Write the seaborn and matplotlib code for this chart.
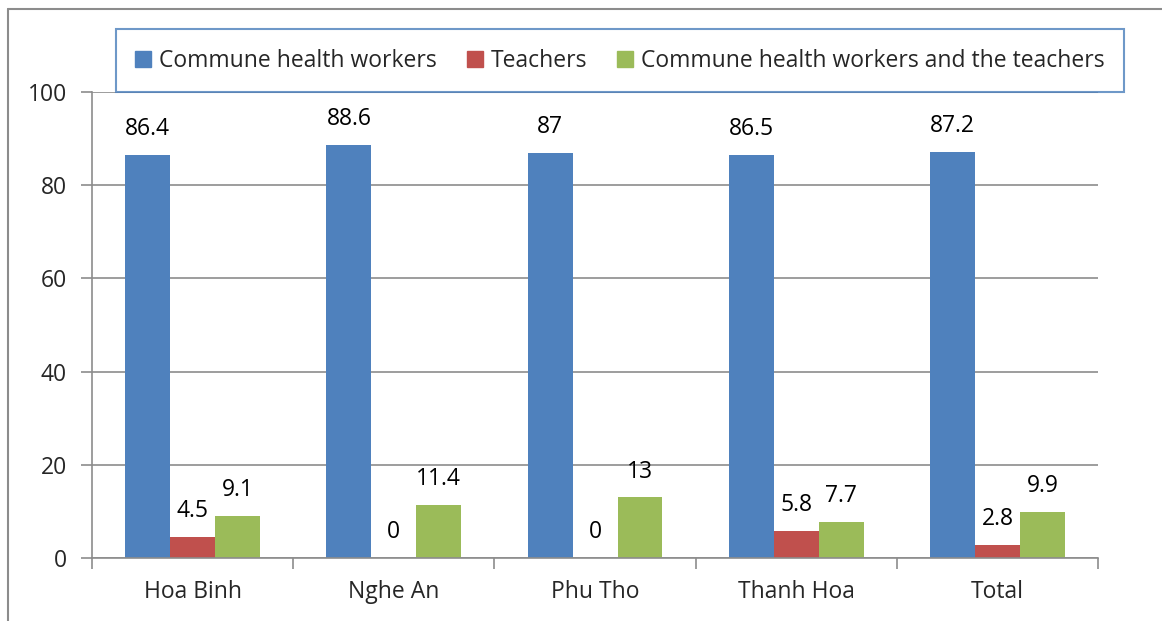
import matplotlib
matplotlib.use("Agg")
import matplotlib.pyplot as plt
from matplotlib.lines import Line2D
import pandas as pd
import seaborn as sns

# Data
provinces = ["Hoa Binh", "Nghe An", "Phu Tho", "Thanh Hoa", "Total"]
series_names = ["Commune health workers", "Teachers",
                "Commune health workers and the teachers"]
health_workers = [86.4, 88.6, 87, 86.5, 87.2]
teachers = [4.5, 0, 0, 5.8, 2.8]
both = [9.1, 11.4, 13, 7.7, 9.9]
y_ticks = [0, 20, 40, 60, 80, 100]

colors = ["#4F81BD", "#C0504D", "#9BBB59"]

rows = []
for name, vals in zip(series_names, [health_workers, teachers, both]):
    for p, v in zip(provinces, vals):
        rows.append({"province": p, "group": name, "value": v})
df = pd.DataFrame(rows)

sns.set_theme(style="white")
plt.rcParams["font.family"] = ["Open Sans", "DejaVu Sans"]

fs = 16.5

fig = plt.figure(figsize=(11.62, 6.21), dpi=100)
ax = fig.add_axes([0.0792, 0.1014, 0.8658, 0.7505])

sns.barplot(data=df, x="province", y="value", hue="group",
            palette=colors, width=0.67, saturation=1, ax=ax,
            errorbar=None, legend=False, linewidth=0)

for cont in ax.containers:
    ax.bar_label(cont, labels=[f"{v:g}" for v in cont.datavalues],
                 padding=10, fontsize=fs, color="black")

ax.set_ylim(0, 100)
ax.set_xlim(-0.5, len(provinces) - 0.5)
ax.set_yticks(y_ticks)
ax.set_xlabel("")
ax.set_ylabel("")
ax.yaxis.grid(True, color="#8C8C8C", linewidth=1.2)
ax.set_axisbelow(True)

ax.set_xticks(range(len(provinces)))
ax.set_xticklabels(provinces)
ax.set_xticks([i - 0.5 for i in range(len(provinces) + 1)], minor=True)
ax.tick_params(axis="x", which="major", length=0, pad=16, labelsize=fs)
ax.tick_params(axis="x", which="minor", length=8, width=1.2,
               color="#8C8C8C", direction="out", bottom=True)
ax.tick_params(axis="y", length=8, width=1.2, color="#8C8C8C",
               direction="out", left=True, pad=10, labelsize=fs)

for side in ["top", "right"]:
    ax.spines[side].set_visible(False)
for side in ["left", "bottom"]:
    ax.spines[side].set_color("#8C8C8C")
    ax.spines[side].set_linewidth(1.2)

handles = [plt.Rectangle((0, 0), 1, 1, color=c) for c in colors]
leg = fig.legend(handles, series_names, ncol=3, loc="center",
                 bbox_to_anchor=(0.5336, 0.902), fontsize=fs,
                 frameon=True, fancybox=False, handlelength=0.7,
                 handleheight=0.7, handletextpad=0.35, columnspacing=1.3,
                 borderpad=0.85)
leg.get_frame().set_edgecolor("#4A7EBB")
leg.get_frame().set_linewidth(1.5)
leg.set_zorder(10)

# outer chart border (cropped: only top and left visible)
fig.add_artist(Line2D([0.0069, 1.0], [0.986, 0.986], color="#8C8C8C",
                      linewidth=1.5, transform=fig.transFigure))
fig.add_artist(Line2D([0.0069, 0.0069], [0.0, 0.986], color="#8C8C8C",
                      linewidth=1.5, transform=fig.transFigure))

fig.savefig("out.png", dpi=100)
